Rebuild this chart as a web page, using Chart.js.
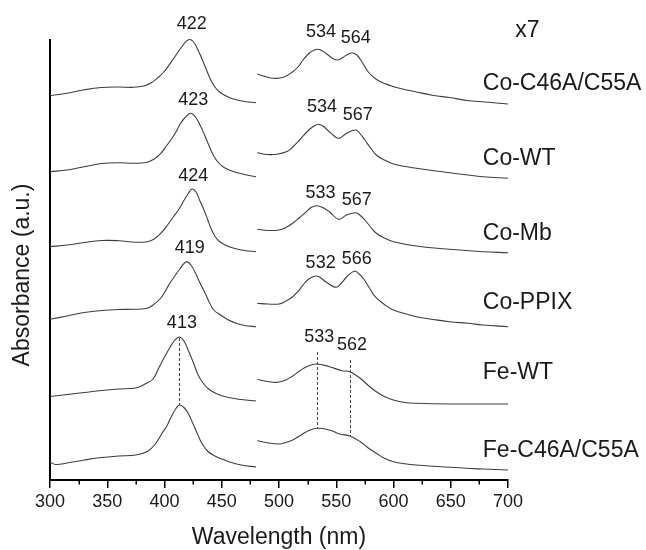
<!DOCTYPE html>
<html>
<head>
<meta charset="utf-8">
<script src="https://cdn.jsdelivr.net/npm/chart.js@4.4.1/dist/chart.umd.min.js"></script>
<style>
  html, body { margin: 0; padding: 0; background: #ffffff; }
  #wrap { width: 646px; height: 550px; }
</style>
</head>
<body>
<div id="wrap"><canvas id="spectra" width="646" height="550"></canvas></div>
<script>
// Axis ticks (nm)
const majorTicks = [300, 350, 400, 450, 500, 550, 600, 650, 700];
const minorTicks = [325, 375, 425, 475, 525, 575, 625, 675];

const sampleNames = ['Co-C46A/C55A', 'Co-WT', 'Co-Mb', 'Co-PPIX', 'Fe-WT', 'Fe-C46A/C55A'];

// Peak maxima (nm)
const soretPeakNm = [422, 423, 424, 419, 413, 413];
const qPeakNm = [[534, 564], [534, 567], [533, 567], [532, 566], [533, 562], [533, 562]];

// Soret region, stacked absorbance (arb. units, offset per trace): [nm, A]
const soretCoC46A = [[300,384.3],[315,386.8],[330,390.2],[345,392.5],[360,393],[373,392.7],[382,394],[388,397],[394,402],[399,407.5],[403,413.3],[408,421.5],[412,428.3],[416,434.5],[419,438.8],[422,440.5],[425,438.5],[428,433],[432,423],[436,412],[440,401],[444,393],[448,388],[453,384.5],[460,381],[470,378.5],[480,377.3]];
const soretCoWT = [[300,308.3],[315,310],[330,313.3],[345,316.5],[360,317.3],[373,316.7],[384,317.5],[391,321],[397,327],[401,333],[405.5,340],[410,348],[414,356.5],[418,362.5],[423,366.7],[427,363],[431,355],[435,345],[439,334],[443,324],[447,317.5],[452,312.5],[460,308.5],[470,305.5],[480,303.3]];
const soretCoMb = [[300,233.3],[315,235],[330,237.5],[345,239.5],[360,239.3],[375,237.8],[385,238.3],[391,241],[397,247],[403,255.5],[408,263.5],[413,271.5],[417,279.5],[420.5,286],[424,291],[427.5,288],[431,279],[434.5,270],[437.5,261],[441,250.5],[444.5,243],[448,238.5],[453,235],[460,232],[470,229.5],[480,228.3]];
const soretCoPPIX = [[300,160.7],[315,164],[330,167.5],[345,169.5],[360,170.5],[373,170.7],[384,171.5],[390,175],[396,181],[400,187.5],[404,195.5],[409,204],[414,212],[419,218.3],[423,215],[427,207],[431,197],[435,188],[439,178],[443,170],[449,165],[455,160.5],[462,157],[470,154.5],[480,153.3]];
const soretFeWT = [[300,83.5],[315,85.5],[330,87.5],[345,89.5],[360,91],[375,92],[383,96],[390,101],[395,112],[400,123],[405,133],[409,140],[413,143],[417,139],[421,129],[425,118],[429,106],[433,98],[438,91.5],[446,86],[455,82.7],[467,80.5],[480,79]];
const soretFeC46A = [[300,18],[305,15.5],[315,17],[330,20],[345,22.5],[360,24],[375,25],[385,28.5],[392,36],[398,47],[402,54],[406,63.5],[410,71.5],[413,75],[417,72.5],[421,66],[425,56],[429,45.5],[433,36],[438,28.5],[444,24],[450,21],[456,18.3],[467,15],[480,13]];

// Q-band region (x7), stacked absorbance: [nm, A]
const qbandCoC46A = [[481,406],[488,403.5],[495,401.7],[504,402.7],[512,408.3],[517,413.5],[521,420],[527,427.5],[531,430],[534,430.7],[538,429],[543,425],[547,421.5],[551,420],[555,422],[559,425],[564,427],[568,425],[573,417],[578,408],[584,401.5],[590,397.5],[597,394.5],[606,391.5],[620,388],[635,384.5],[649,382.5],[664,379.5],[680,378],[700,376]];
const qbandCoWT = [[481,327.3],[490,325.5],[498,325.7],[507,328.5],[512,333],[518,340],[526,350],[530,353.5],[534,355.7],[539,353.5],[544,348.3],[552,341.7],[559,346.7],[567,350],[571,346],[575,340],[580,332],[585,325],[592,320],[600,316],[620,311.7],[649,307.3],[678,303.3],[700,301.7]];
const qbandCoMb = [[481,250.7],[490,249.5],[500,250],[506,252.5],[512,256.7],[518,262.5],[524,268.3],[528,272.5],[533,274.3],[539,272],[544,268.3],[552,260.7],[559,265],[567,267.3],[571,264.5],[575,260],[580,253],[585,246.7],[592,242],[600,238.3],[620,234],[649,230.7],[678,228.3],[700,227.3]];
const qbandCoPPIX = [[481,176.7],[490,176],[500,176],[506,179],[512,183.3],[517,189],[521,195],[526,201],[532,204],[536,202.5],[541,198],[550,192.7],[555,197.5],[559,203],[566,209],[570,206],[574,201],[579,192],[584,183.3],[592,175.5],[600,170],[620,163.3],[635,160.5],[649,158.3],[665,156.7],[678,155],[700,153.3]];
const qbandFeWT = [[481,100.7],[490,98.5],[499,97.7],[506,100],[512,104],[518,109],[524,113.3],[533,116],[544,113.3],[555,109.3],[562,108.3],[571,101.7],[578,94.5],[585,88.3],[592,83.5],[600,80],[610,77.5],[620,76.7],[649,76],[678,76],[700,76]];
const qbandFeC46A = [[481,39.3],[490,37.3],[500,36],[506,37.5],[512,40],[518,44],[524,48.3],[533,51.7],[544,50],[553,46],[562,44],[571,38.3],[578,32],[585,26.7],[592,21.8],[600,18.3],[610,16.2],[620,15],[649,12.7],[678,11],[700,10]];

const soretTraces = [soretCoC46A, soretCoWT, soretCoMb, soretCoPPIX, soretFeWT, soretFeC46A];
const qbandTraces = [qbandCoC46A, qbandCoWT, qbandCoMb, qbandCoPPIX, qbandFeWT, qbandFeC46A];

// Text placement
const FONT = "'Liberation Sans', Arial, sans-serif";
const INK = '#1a1a1a';
const TRACE = '#3d3d3d';
const sampleLabelNm = 678;
const sampleLabelLevel = [396.5, 321, 246, 177.5, 107.5, 29];
// pixel shifts of each peak label from its maximum: [soret, q1, q2]
const peakLabelShift = [
  [[2, -15], [3, -17], [3.5, -15]],
  [[2.5, -13.5], [4, -17], [2, -15]],
  [[1.2, -13], [3.8, -12.5], [1, -12.7]],
  [[3.6, -14], [5, -12.7], [2.2, -12]],
  [[2.5, -14.3], [2.5, -27], [2, -26.7]]
];

function valueAt(trace, nm) {
  const p = trace.find(d => d[0] === nm);
  return p ? p[1] : null;
}

const datasets = [];
soretTraces.forEach((t, i) => {
  datasets.push({ label: sampleNames[i] + ' Soret', data: t.map(d => ({ x: d[0], y: d[1] })) });
});
qbandTraces.forEach((t, i) => {
  datasets.push({ label: sampleNames[i] + ' Q (x7)', data: t.map(d => ({ x: d[0], y: d[1] })) });
});
datasets.forEach(ds => Object.assign(ds, {
  borderColor: TRACE, borderWidth: 1.1, pointRadius: 0, fill: false,
  tension: 0.4, clip: false
}));

const annotations = {
  id: 'annotations',
  afterDraw(chart) {
    const { ctx, scales: { x, y }, chartArea } = chart;
    ctx.save();

    // minor ticks
    ctx.strokeStyle = '#000';
    ctx.lineWidth = 1.5;
    minorTicks.forEach(v => {
      const px = Math.round(x.getPixelForValue(v)) + 0.25;
      ctx.beginPath();
      ctx.moveTo(px, chartArea.bottom);
      ctx.lineTo(px, chartArea.bottom + 4.5);
      ctx.stroke();
    });

    // y-axis title
    ctx.fillStyle = INK;
    ctx.font = '23px ' + FONT;
    ctx.textAlign = 'center';
    ctx.textBaseline = 'middle';
    ctx.save();
    ctx.translate(22.5, 275);
    ctx.rotate(-Math.PI / 2);
    ctx.fillText('Absorbance (a.u.)', 0, 0);
    ctx.restore();

    // sample names and magnification note
    ctx.textAlign = 'left';
    sampleNames.forEach((name, i) => {
      ctx.fillText(name, x.getPixelForValue(sampleLabelNm), y.getPixelForValue(sampleLabelLevel[i]));
    });
    ctx.textAlign = 'center';
    ctx.fillText('x7', x.getPixelForValue(717), y.getPixelForValue(449));

    // peak labels
    ctx.font = '18px ' + FONT;
    const labelPos = [];
    peakLabelShift.forEach((shifts, i) => {
      const peaks = [[soretTraces[i], soretPeakNm[i]], [qbandTraces[i], qPeakNm[i][0]], [qbandTraces[i], qPeakNm[i][1]]];
      labelPos.push(peaks.map(([trace, nm], k) => {
        const px = x.getPixelForValue(nm) + shifts[k][0];
        const py = y.getPixelForValue(valueAt(trace, nm)) + shifts[k][1];
        ctx.fillText(String(nm), px, py);
        return py;
      }));
    });

    // dashed guides through the Fe maxima
    ctx.strokeStyle = '#444';
    ctx.lineWidth = 1;
    ctx.setLineDash([3, 2]);
    const guide = (nm, y0, y1) => {
      const px = Math.round(x.getPixelForValue(nm)) + 0.5;
      ctx.beginPath();
      ctx.moveTo(px, y0);
      ctx.lineTo(px, y1);
      ctx.stroke();
    };
    guide(soretPeakNm[4],
      y.getPixelForValue(valueAt(soretFeWT, soretPeakNm[4])) + 1,
      y.getPixelForValue(valueAt(soretFeC46A, soretPeakNm[5])));
    qPeakNm[4].forEach((nm, k) => {
      guide(nm, labelPos[4][k + 1] + 15, y.getPixelForValue(valueAt(qbandFeC46A, nm)));
    });
    ctx.restore();
  }
};

new Chart(document.getElementById('spectra'), {
  type: 'line',
  data: { datasets },
  options: {
    responsive: false,
    animation: false,
    devicePixelRatio: 1,
    layout: { padding: { left: 0, right: 138, top: 40, bottom: 0 } },
    plugins: { legend: { display: false }, tooltip: { enabled: false } },
    scales: {
      x: {
        type: 'linear',
        min: 300, max: 700,
        afterFit: s => { s.height = 70; },
        afterBuildTicks: s => { s.ticks = majorTicks.map(v => ({ value: v })); },
        ticks: { color: INK, font: { family: FONT, size: 18 }, padding: 3, maxRotation: 0 },
        grid: { display: true, drawOnChartArea: false, drawTicks: true, tickLength: 8, color: '#000', lineWidth: 1.5 },
        border: { display: true, color: '#000', width: 2 },
        title: { display: true, text: 'Wavelength (nm)', color: INK,
                 font: { family: FONT, size: 23, lineHeight: 1 }, padding: { top: 0, bottom: 1 } }
      },
      y: {
        type: 'linear',
        min: 0, max: 440,
        afterFit: s => { s.width = 50; },
        ticks: { display: false },
        grid: { display: false },
        border: { display: true, color: '#000', width: 2 }
      }
    }
  },
  plugins: [annotations]
});
</script>
</body>
</html>
